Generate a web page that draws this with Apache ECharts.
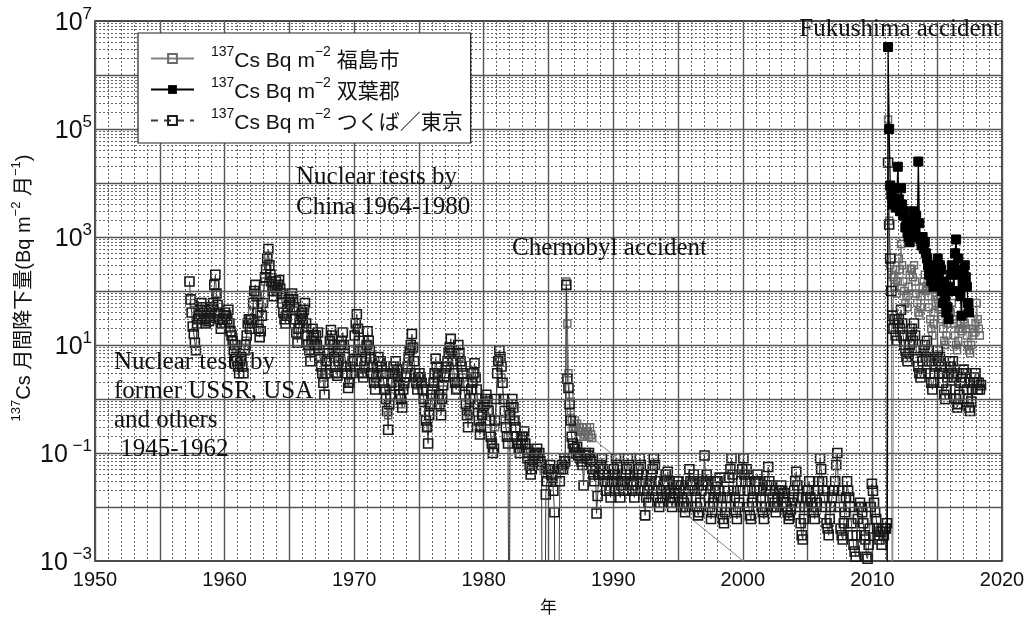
<!DOCTYPE html>
<html><head><meta charset="utf-8">
<script src="https://cdn.jsdelivr.net/npm/echarts@6/dist/echarts.min.js"></script>
<style>html,body{margin:0;padding:0;background:#fff}#c{width:1035px;height:620px}</style>
</head><body><div id="c"></div>
<script>
// ---- axis / tick definitions ----
const xTickLabels = [1950, 1960, 1970, 1980, 1990, 2000, 2010, 2020];
const yTickExponents = [-3, -1, 1, 3, 5, 7];
const seriesNames = ['福島市', '双葉郡', 'つくば／東京'];

// ---- つくば／東京 : monthly values, first month = April 1957 ----
const tokyoStart = 1957.25;
const tokyoValues = [
  150, 70, 40, 22, 16, 11, 8, 25, 30,
  35, 45, 60, 50, 40, 30, 25, 40, 35, 28, 32, 45,
  50, 60, 130, 200, 90, 55, 40, 30, 20, 25, 30, 35,
  40, 35, 30, 45, 25, 18, 15, 12, 8, 10, 6, 5,
  4, 3, 5, 6, 4, 3, 8, 10, 15, 25, 30, 20,
  30, 25, 60, 100, 130, 80, 40, 20, 14, 18, 35, 60,
  120, 180, 250, 400, 600, 300, 200, 150, 100, 80, 120, 150,
  100, 130, 160, 110, 90, 60, 40, 30, 25, 35, 50, 70,
  60, 80, 90, 70, 50, 30, 17, 11, 20, 25, 35, 40,
  30, 45, 60, 25, 15, 10, 8, 5, 12, 20, 15, 10,
  15, 10, 17, 8, 6, 4, 3, 2, 1.2, 3, 5, 7,
  8, 12, 19, 15, 10, 6, 4, 3, 2.7, 5, 8, 10,
  12, 17, 10, 6, 4, 3, 1.6, 2, 4, 3, 5, 8,
  15, 25, 37, 20, 12, 8, 5, 3, 2.5, 4, 6, 10,
  18, 12, 8, 6, 4, 3, 2, 1.5, 2.5, 4, 6, 5,
  5, 4, 3, 2, 1.5, 1, 0.6, 0.27, 0.8, 1.2, 2, 3,
  4, 3, 5, 3.5, 2.5, 1.8, 1.2, 1, 0.7, 1.5, 2, 2.5,
  3, 4, 6, 8, 10, 16, 9, 5, 3, 2, 1.5, 2.5,
  3, 2.5, 2, 1.5, 1, 0.6, 0.4, 0.3, 0.15, 0.5, 0.8, 1.2,
  1.5, 2, 3, 5.6, 4, 2.5, 1.2, 0.8, 0.5, 1, 1.8, 2.5,
  3, 4, 5, 7, 9, 13, 8, 5, 3, 2, 1.5, 2,
  10, 7, 5, 4, 3, 2, 1.2, 0.8, 0.5, 0.3, 0.6, 1,
  1.5, 2, 3, 4.6, 2.5, 1.5, 0.8, 0.4, 0.22, 0.3, 0.5, 0.7,
  0.8, 1, 1.2, 0.9, 0.6, 0.4, 0.2, 0.15, 0.1, 0.12, 0.4, 1,
  3, 5, 8, 6, 4, 2, 1, 0.6, 0.3, 0.2, 0.15, 0.000001,
  0.5, 0.8, 1, 0.7, 0.4, 0.3, 0.2, 0.15, 0.12, 0.1, 0.15, 0.2,
  0.2, 0.25, 0.15, 0.12, 0.08, 0.1, 0.06, 0.04, 0.05, 0.07, 0.09, 0.1,
  0.1, 0.12, 0.08, 0.1, 0.07, 0.06, 0.000001, 0.000001, 0.000001, 0.017, 0.03, 0.05,
  0.05, 0.06, 0.04, 0.035, 0.02, 0.008, 0.000001, 0.000001, 0.000001, 0.000001, 0.03, 0.05,
  0.06, 0.05, 0.08, 0.07, 130, 2.4, 1.6, 0.8, 0.4, 0.2, 0.15, 0.12,
  0.12, 0.1, 0.13, 0.09, 0.1, 0.08, 0.07, 0.06, 0.025, 0.09, 0.1, 0.08,
  0.09, 0.1, 0.08, 0.07, 0.05, 0.04, 0.03, 0.05, 0.0076, 0.016, 0.04, 0.05,
  0.06, 0.08, 0.05, 0.04, 0.03, 0.02, 0.03, 0.04, 0.02, 0.015, 0.03, 0.04,
  0.05, 0.04, 0.08, 0.06, 0.03, 0.02, 0.015, 0.025, 0.03, 0.02, 0.03, 0.04,
  0.05, 0.08, 0.06, 0.04, 0.03, 0.02, 0.025, 0.015, 0.02, 0.03, 0.04, 0.05,
  0.08, 0.06, 0.04, 0.03, 0.02, 0.007, 0.015, 0.02, 0.012, 0.025, 0.03, 0.04,
  0.05, 0.08, 0.06, 0.03, 0.02, 0.015, 0.01, 0.012, 0.02, 0.015, 0.025, 0.03,
  0.04, 0.03, 0.045, 0.02, 0.015, 0.012, 0.01, 0.015, 0.02, 0.018, 0.025, 0.03,
  0.03, 0.02, 0.025, 0.015, 0.01, 0.012, 0.008, 0.01, 0.015, 0.02, 0.05, 0.03,
  0.025, 0.03, 0.04, 0.02, 0.015, 0.01, 0.007, 0.008, 0.012, 0.02, 0.025, 0.03,
  0.09, 0.03, 0.04, 0.025, 0.015, 0.01, 0.006, 0.008, 0.012, 0.015, 0.02, 0.03,
  0.03, 0.02, 0.035, 0.015, 0.01, 0.006, 0.005, 0.008, 0.01, 0.015, 0.02, 0.035,
  0.05, 0.08, 0.04, 0.02, 0.015, 0.008, 0.006, 0.01, 0.012, 0.02, 0.03, 0.05,
  0.08, 0.04, 0.03, 0.05, 0.02, 0.01, 0.007, 0.006, 0.012, 0.015, 0.02, 0.03,
  0.03, 0.04, 0.03, 0.02, 0.015, 0.01, 0.008, 0.006, 0.01, 0.02, 0.025, 0.055,
  0.03, 0.02, 0.025, 0.015, 0.01, 0.012, 0.008, 0.01, 0.015, 0.02, 0.02, 0.025,
  0.02, 0.015, 0.018, 0.012, 0.01, 0.008, 0.006, 0.007, 0.009, 0.012, 0.015, 0.02,
  0.03, 0.045, 0.025, 0.015, 0.01, 0.005, 0.003, 0.0025, 0.006, 0.01, 0.015, 0.02,
  0.02, 0.03, 0.015, 0.012, 0.01, 0.008, 0.006, 0.01, 0.012, 0.02, 0.03, 0.08,
  0.05, 0.03, 0.02, 0.015, 0.01, 0.005, 0.004, 0.003, 0.006, 0.01, 0.015, 0.02,
  0.02, 0.03, 0.06, 0.1, 0.02, 0.01, 0.004, 0.003, 0.0025, 0.005, 0.008, 0.015,
  0.03, 0.02, 0.015, 0.01, 0.005, 0.003, 0.002, 0.0015, 0.0012, 0.003, 0.006, 0.01,
  0.012, 0.01, 0.008, 0.005, 0.003, 0.0025, 0.0012, 0.0011, 0.002, 0.004, 0.01, 0.027,
  0.02, 0.012, 0.008, 0.006, 0.004, 0.003, 0.0025, 0.0035, 0.002, 0.004, 0.003, 0.004,
  0.004, 0.005, 24000, 1700, 400, 100, 35, 20, 30, 15, 12, 25,
  30, 20, 45, 25, 15, 10, 8, 6, 5, 7, 10, 15,
  20, 12, 25, 15, 8, 6, 4, 3, 2.5, 3, 5, 8,
  10, 6, 12, 8, 5, 3, 2, 1.5, 2, 3, 4, 6,
  8, 5, 6, 4, 3, 2, 1.2, 1, 1.5, 2.5, 3, 5,
  4, 3, 5, 2.5, 1.5, 1, 0.7, 0.8, 1.2, 2, 2.5, 3,
  3.5, 2, 3, 1.5, 1, 0.7, 0.6, 0.9, 1.5, 2, 2.5, 3,
  2, 1.5, 2, 1.5, 1.8
];

// ---- 福島市 : quarterly values from Q3 1957 to Q1 1986 ----
const fukushimaEarlyStart = 1957.5;
const fukushimaEarlyValues = [
  60, 40,
  30, 45, 25, 35,  50, 90, 30, 25,  35, 20, 12, 8,  5, 6, 12, 30,
  40, 90, 25, 50,  150, 450, 180, 110,  120, 70, 35, 55,  60, 45, 15, 30,
  40, 20, 8, 12,  10, 6, 2.5, 5,  12, 8, 3, 6,  10, 4, 2, 5,
  20, 8, 3, 5,  10, 4, 2, 3,  3, 1.5, 0.5, 1.5,  3, 2, 0.8, 1.8,
  5, 9, 2.5, 1.8,  2, 1, 0.3, 0.7,  2, 3, 0.7, 1.5,  4, 8, 2.5, 1.5,
  6, 2.5, 0.6, 0.5,  2, 3, 0.3, 0.5,  0.8, 0.6, 0.15, 0.3,  5, 2.5, 0.4, 0.2,
  0.6, 0.4, 0.15, 0.12,  0.15, 0.1, 0.06, 0.08,  0.1, 0.07, 0.05, 0.04,  0.05, 0.03, 0.04, 0.05,
  0.06
];
// ---- 福島市 : monthly values April 1986 – June 1988 ----
const fukushimaChernobylStart = 1986.25;
const fukushimaChernobylValues = [
  0.06, 150, 25, 3, 1.2, 0.6, 0.4, 0.3, 0.35,
  0.4, 0.3, 0.35, 0.25, 0.3, 0.2, 0.25, 0.3, 0.2, 0.22, 0.25, 0.3,
  0.25, 0.2, 0.3, 0.22, 0.19
];
// ---- 福島市 : monthly values from January 2011 ----
const fukushimaLateStart = 2011.0;
const fukushimaLateValues = [
  0.000007, 0.000007, 150000, 2000, 300, 200, 0.000001, 180, 120, 250, 90, 150,
  400, 250, 740, 300, 150, 100, 60, 80, 50, 120, 200, 260,
  250, 180, 300, 150, 90, 60, 40, 35, 50, 80, 120, 150,
  200, 100, 120, 80, 50, 30, 20, 15, 25, 40, 60, 80,
  70, 50, 80, 45, 30, 20, 12, 10, 15, 25, 30, 45,
  40, 60, 30, 25, 15, 10, 8, 12, 20, 25, 18, 20,
  30, 25, 20, 15, 10, 8, 7, 10, 15, 20, 17, 25,
  60, 30, 20, 15
];

// ---- 双葉郡 : monthly values from February 2011 ----
const futabaStart = 2011 + 1 / 12;
const futabaValues = [
  0.000001,
  3300000, 100000, 9000, 6000, 4000, 8000, 5000, 3500, 4500, 20000,
  5000, 3000, 8000, 4000, 2500, 3000, 1500, 2000, 1200, 1000, 800, 1500,
  2000, 1200, 3000, 1500, 2500, 1000, 25000, 1800, 900, 700, 1000, 600,
  800, 500, 400, 300, 200, 250, 150, 180, 120, 300, 200, 150,
  400, 200, 300, 250, 100, 60, 150, 80, 40, 50, 30, 120,
  200, 300, 250, 100, 500, 900, 200, 400, 100, 80, 35, 150,
  250, 300, 180, 120, 60, 40
];

function toPoints(start, step, vals) {
  return vals.map((v, i) => [start + (i + 0.5) * step, v]);
}
const tokyoData = toPoints(tokyoStart, 1 / 12, tokyoValues);
const fukushimaData = toPoints(fukushimaEarlyStart, 0.25, fukushimaEarlyValues)
  .concat(toPoints(fukushimaChernobylStart, 1 / 12, fukushimaChernobylValues))
  .concat(toPoints(fukushimaLateStart, 1 / 12, fukushimaLateValues));
const futabaData = toPoints(futabaStart, 1 / 12, futabaValues);

// horizontal log grid lines (decades solid, 2..9 dotted)
const hLines = [];
for (let e = -3; e <= 6; e++) {
  for (let k = 2; k <= 9; k++) hLines.push({ yAxis: +(k * Math.pow(10, e)).toPrecision(3) });
  if (e > -3) hLines.push({ yAxis: Math.pow(10, e), lineStyle: { type: 'solid', color: '#555', width: 1.4 } });
}

const supRich = {
  b: { fontSize: 25, fontFamily: 'Liberation Sans', color: '#111', lineHeight: 30, verticalAlign: 'bottom' },
  s: { fontSize: 17, fontFamily: 'Liberation Sans', color: '#111', lineHeight: 16, verticalAlign: 'top' }
};

const legendRich = {
  g: { width: 12 },
  t: { fontSize: 21, fontFamily: 'Liberation Sans, Noto Sans CJK JP', color: '#111', lineHeight: 27, verticalAlign: 'bottom' },
  s: { fontSize: 14, fontFamily: 'Liberation Sans', color: '#111', lineHeight: 14, verticalAlign: 'top' }
};

const serif = '25px "Liberation Serif"';
function note(text, x, y, align) {
  return { type: 'text', x: x, y: y, z: 50, silent: true,
    style: { text: text, font: serif, fill: '#111', textAlign: align || 'left', textVerticalAlign: 'middle' } };
}

const chart = echarts.init(document.getElementById('c'));
chart.setOption({
  animation: false,
  backgroundColor: '#fff',
  grid: { left: 95, right: 33, top: 21, bottom: 52, show: true, borderColor: '#111', borderWidth: 1.5, backgroundColor: 'transparent' },
  legend: {
    data: [
      { name: seriesNames[0] },
      { name: seriesNames[1] },
      { name: seriesNames[2], lineStyle: { type: [7, 6] } }
    ],
    orient: 'vertical', left: 138, top: 33, z: 20,
    backgroundColor: '#fff', borderColor: '#222', borderWidth: 1.2, borderRadius: 0,
    padding: [12, 8, 9, 12], itemGap: 4, itemWidth: 43, itemHeight: 11,
    formatter: n => '{g|}{s|137}{t|Cs Bq m}{s|−2}{t| ' + n + '}',
    textStyle: { rich: legendRich }
  },
  xAxis: {
    type: 'value', min: 1950, max: 2020, interval: 5,
    axisLine: { show: false }, axisTick: { show: false },
    axisLabel: { formatter: v => xTickLabels.indexOf(v) >= 0 ? String(v) : '', color: '#111', fontSize: 20, fontFamily: 'Liberation Sans', margin: 9 },
    splitLine: { show: true, lineStyle: { color: '#555', width: 1.4 } },
    minorTick: { show: false, splitNumber: 5 },
    minorSplitLine: { show: true, lineStyle: { color: '#666', width: 1, type: [2, 2] } },
    name: '年', nameLocation: 'middle', nameGap: 37,
    nameTextStyle: { fontSize: 17, color: '#111', fontFamily: 'Noto Sans CJK JP' }
  },
  yAxis: {
    type: 'log', logBase: 10, min: 0.001, max: 10000000, interval: 1,
    axisLine: { show: false }, axisTick: { show: false }, splitLine: { show: false },
    axisLabel: {
      margin: 3, fontSize: 25, fontFamily: 'Liberation Sans', color: '#111',
      showMinLabel: true, showMaxLabel: true, hideOverlap: false,
      formatter: v => {
        const e = Math.round(Math.log10(v));
        if (yTickExponents.indexOf(e) < 0) return '';
        return '{b|10}{s|' + (e < 0 ? ' −' + (-e) : String(e)) + '}';
      },
      rich: supRich
    }
  },
  graphic: [
    { type: 'text', x: 22, y: 288, rotation: Math.PI / 2, z: 50, silent: true,
      style: { text: '{s|137}{b|Cs 月間降下量(Bq m}{s|−2}{b| 月}{s|−1}{b|)}', textAlign: 'center', textVerticalAlign: 'middle',
        rich: {
          b: { fontSize: 20, fontFamily: 'Liberation Sans, Noto Sans CJK JP', fill: '#111', lineHeight: 25, verticalAlign: 'bottom' },
          s: { fontSize: 13, fontFamily: 'Liberation Sans', fill: '#111', lineHeight: 13, verticalAlign: 'top' }
        } } },
    note('Fukushima accident', 1000, 29, 'right'),
    note('Nuclear tests by', 296, 177),
    note('China 1964-1980', 296, 207),
    note('Chernobyl accident', 512, 248),
    note('Nuclear tests by', 114, 362),
    note('former USSR, USA', 114, 391),
    note('and others', 114, 420),
    note(' 1945-1962', 114, 449)
  ],
  series: [
    { name: 'grid', type: 'line', data: [], z: 1, silent: true, legendHoverLink: false,
      markLine: { silent: true, symbol: ['none', 'none'], label: { show: false }, animation: false,
        lineStyle: { color: '#666', width: 1, type: [2, 2] }, data: hLines } },
    { name: '福島市', type: 'line', data: fukushimaData, z: 3, symbol: 'rect', symbolSize: 7, showAllSymbol: true, clip: true,
      itemStyle: { color: 'rgba(0,0,0,0)', borderColor: '#6a6a6a', borderWidth: 1.4 },
      lineStyle: { color: '#808080', width: 1 } },
    { name: 'つくば／東京', type: 'line', data: tokyoData, z: 4, symbol: 'rect', symbolSize: 9, showAllSymbol: true, clip: true,
      itemStyle: { color: 'rgba(0,0,0,0)', borderColor: '#1a1a1a', borderWidth: 1.6 },
      lineStyle: { color: '#3a3a3a', width: 1 } },
    { name: '双葉郡', type: 'line', data: futabaData, z: 5, symbol: 'rect', symbolSize: 9, showAllSymbol: true, clip: true,
      itemStyle: { color: '#000', borderColor: '#000' },
      lineStyle: { color: '#000', width: 1.3 } }
  ]
});
</script></body></html>
